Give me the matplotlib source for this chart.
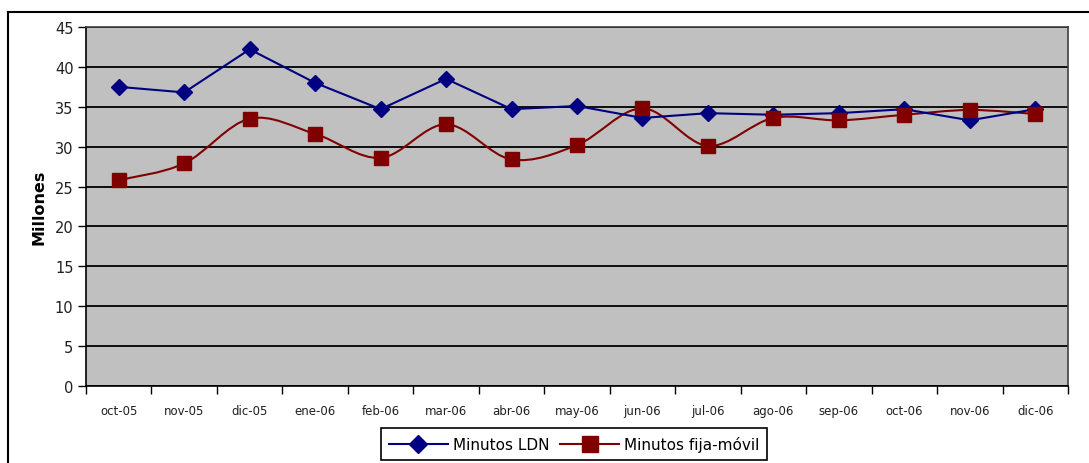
import numpy as np
import matplotlib
matplotlib.use('Agg')
import matplotlib.pyplot as plt
from matplotlib.path import Path
from matplotlib.patches import PathPatch
from matplotlib.lines import Line2D

# --- data ---
months = ["oct-05", "nov-05", "dic-05", "ene-06", "feb-06", "mar-06", "abr-06",
          "may-06", "jun-06", "jul-06", "ago-06", "sep-06", "oct-06", "nov-06", "dic-06"]
minutos_ldn = [37.5, 36.8, 42.2, 38.0, 34.7, 38.5, 34.7, 35.1, 33.6, 34.2, 34.0, 34.2, 34.7, 33.3, 34.7]
minutos_fija_movil = [25.8, 27.9, 33.5, 31.6, 28.6, 32.8, 28.4, 30.2, 34.8, 30.1, 33.6, 33.3, 34.0, 34.6, 34.1]

BLUE = "#000080"
RED = "#800000"
PLOT_BG = "#C0C0C0"

plt.rcParams['font.family'] = ['DejaVu Sans']

fig = plt.figure(figsize=(10.89, 4.64), dpi=100)
ax = fig.add_axes([86 / 1089, 1 - 387 / 464, (1068 - 86) / 1089, (387 - 28) / 464])
ax.set_facecolor(PLOT_BG)

x = np.arange(len(months))

# gridlines
ax.set_ylim(0, 45)
ax.set_yticks(np.arange(0, 46, 5))
ax.yaxis.grid(True, color="black", linewidth=1.3)
ax.set_axisbelow(True)
ax.set_xlim(-0.5, len(months) - 0.5)

# blue series, straight segments
ax.plot(x, minutos_ldn, color=BLUE, linewidth=1.5, marker="D", markersize=8,
        markerfacecolor=BLUE, markeredgecolor=BLUE, zorder=4)

# red series, smoothed line (Excel style) drawn as bezier through the points
def smooth_path(xs, ys, t=1 / 6):
    verts = [(xs[0], ys[0])]
    codes = [Path.MOVETO]
    n = len(xs)
    for i in range(n - 1):
        p0 = (xs[max(i - 1, 0)], ys[max(i - 1, 0)])
        p1 = (xs[i], ys[i])
        p2 = (xs[i + 1], ys[i + 1])
        p3 = (xs[min(i + 2, n - 1)], ys[min(i + 2, n - 1)])
        c1 = (p1[0] + (p2[0] - p0[0]) * t, p1[1] + (p2[1] - p0[1]) * t)
        c2 = (p2[0] - (p3[0] - p1[0]) * t, p2[1] - (p3[1] - p1[1]) * t)
        verts += [c1, c2, p2]
        codes += [Path.CURVE4] * 3
    return Path(verts, codes)

ax.add_patch(PathPatch(smooth_path(x, minutos_fija_movil), facecolor="none",
                       edgecolor=RED, linewidth=1.5, zorder=3))
ax.plot(x, minutos_fija_movil, linestyle="none", marker="s", markersize=10.5,
        markerfacecolor=RED, markeredgecolor=RED, zorder=5)

# axes styling
ax.set_xticks(np.arange(-0.5, len(months), 1))
ax.set_xticklabels([])
ax.set_xticks(x, minor=True)
ax.set_xticklabels(months, minor=True, fontsize=8.5, color="#202020")
ax.tick_params(axis="x", which="major", direction="out", length=6, width=1, colors="black")
ax.tick_params(axis="x", which="minor", length=0, pad=13)
ax.tick_params(axis="y", direction="out", length=6, width=1, labelsize=10.5, pad=3,
               labelcolor="#202020")
ax.set_ylabel("Millones", fontsize=11.5, fontweight="bold", labelpad=6)
for side in ["left", "bottom"]:
    ax.spines[side].set_color("black")
    ax.spines[side].set_linewidth(1.2)
for side in ["right", "top"]:
    ax.spines[side].set_color("#404040")
    ax.spines[side].set_linewidth(1.2)

# legend
handles = [
    Line2D([], [], color=BLUE, marker="D", markersize=9, linewidth=1.5),
    Line2D([], [], color=RED, marker="s", markersize=11, linewidth=1.5),
]
leg = fig.legend(handles, ["Minutos LDN", "Minutos fija-móvil"], loc="center",
                 bbox_to_anchor=(574 / 1089, 1 - 445 / 464), ncol=2, fontsize=11,
                 frameon=True, fancybox=False, edgecolor="black", framealpha=1,
                 handlelength=3.9, columnspacing=0.7, handletextpad=0.3,
                 borderpad=0.5, borderaxespad=0)
leg.get_frame().set_linewidth(1.2)

# outer chart frame (top and left edges visible)
fig.add_artist(Line2D([8 / 1089, 1], [1 - 13 / 464, 1 - 13 / 464], color="black", linewidth=1.5))
fig.add_artist(Line2D([8 / 1089, 8 / 1089], [0, 1 - 13 / 464], color="black", linewidth=1.5))

fig.savefig("out.png", dpi=100, facecolor="white")
